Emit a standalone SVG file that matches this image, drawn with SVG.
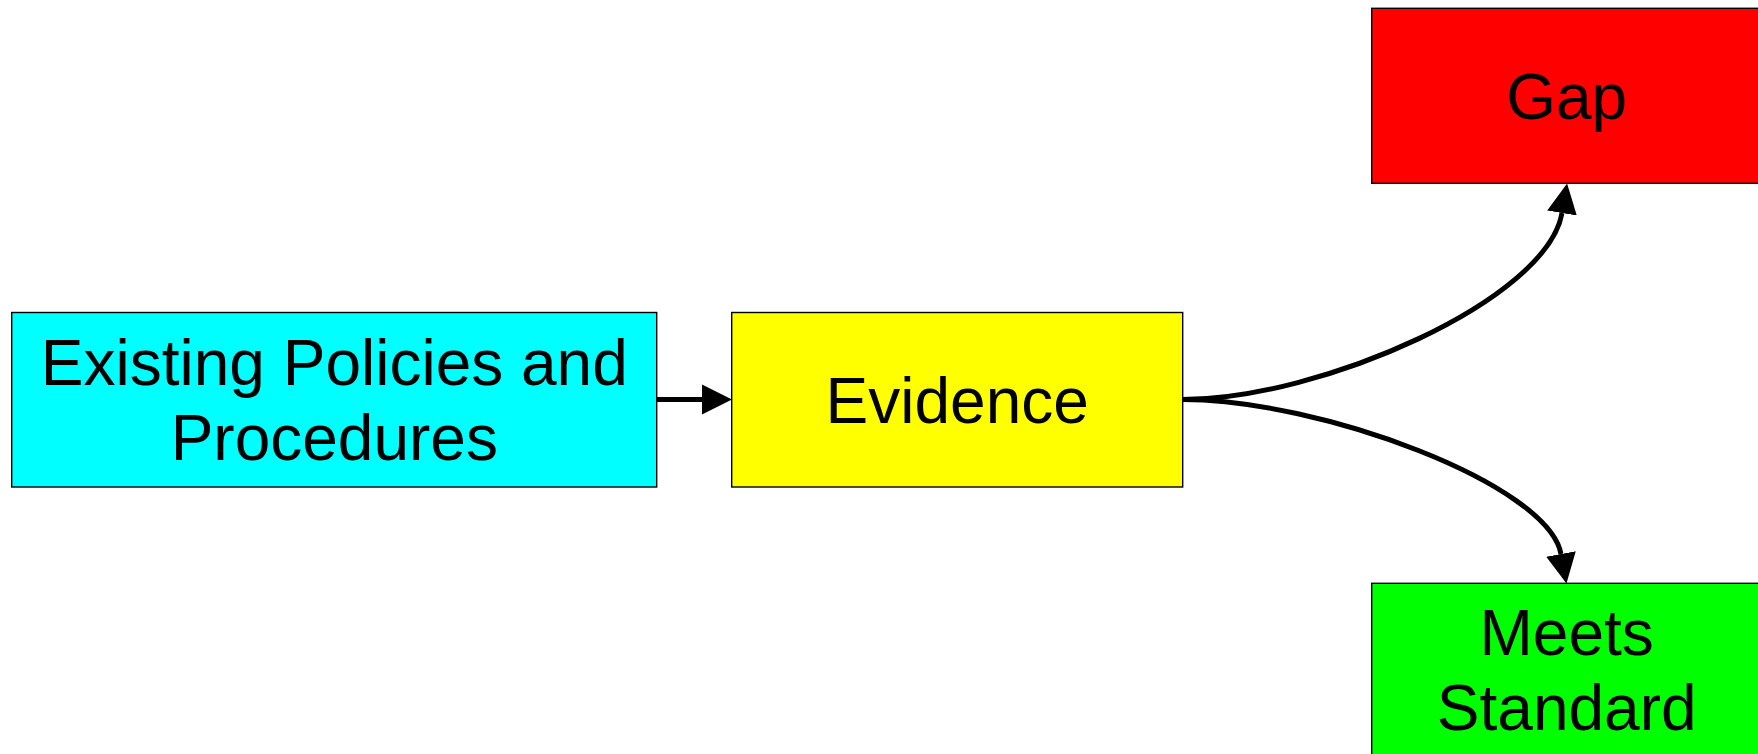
<svg xmlns="http://www.w3.org/2000/svg" width="1758" height="754" viewBox="0 0 1758 754">
  <defs>
    <style>
      .box { stroke: #000; stroke-width: 1.4; }
      .label { font-family: "Liberation Sans", Arial, sans-serif; font-size: 64px; fill: #000; text-anchor: middle; }
      .edge { fill: none; stroke: #000; stroke-width: 5; }
    </style>
    <marker id="arrow" markerUnits="userSpaceOnUse" markerWidth="32" markerHeight="32" refX="0" refY="16" orient="auto" viewBox="0 0 32 32">
      <path d="M0,1 L30,16 L0,31 Z" fill="#000"/>
    </marker>
  </defs>
  <rect width="1758" height="754" fill="#fff"/>

  <g id="connectors">
    <path class="edge" d="M656.7,399.5 L702,399.5" marker-end="url(#arrow)"/>
    <path class="edge" d="M1182.7,399.5 C1320,399.5 1547,300 1562,213" marker-end="url(#arrow)"/>
    <path class="edge" d="M1182.7,399.5 C1320,399.5 1548,484 1561,554" marker-end="url(#arrow)"/>
  </g>

  <g id="node-policies">
    <rect class="box" x="11.7" y="312.5" width="645" height="174.5" fill="#00ffff"/>
    <text class="label" x="334.3" y="384.5">Existing Policies and</text>
    <text class="label" x="334.3" y="459.5">Procedures</text>
  </g>

  <g id="node-evidence">
    <rect class="box" x="731.7" y="312.5" width="451" height="174.5" fill="#ffff00"/>
    <text class="label" x="957.2" y="422.7">Evidence</text>
  </g>

  <g id="node-gap">
    <rect class="box" x="1371.7" y="8.3" width="390" height="175" fill="#ff0000"/>
    <text class="label" x="1566.7" y="118.5">Gap</text>
  </g>

  <g id="node-meets">
    <rect class="box" x="1371.7" y="583.3" width="390" height="175" fill="#00ff00"/>
    <text class="label" x="1566.7" y="655">Meets</text>
    <text class="label" x="1566.7" y="730">Standard</text>
  </g>
</svg>
